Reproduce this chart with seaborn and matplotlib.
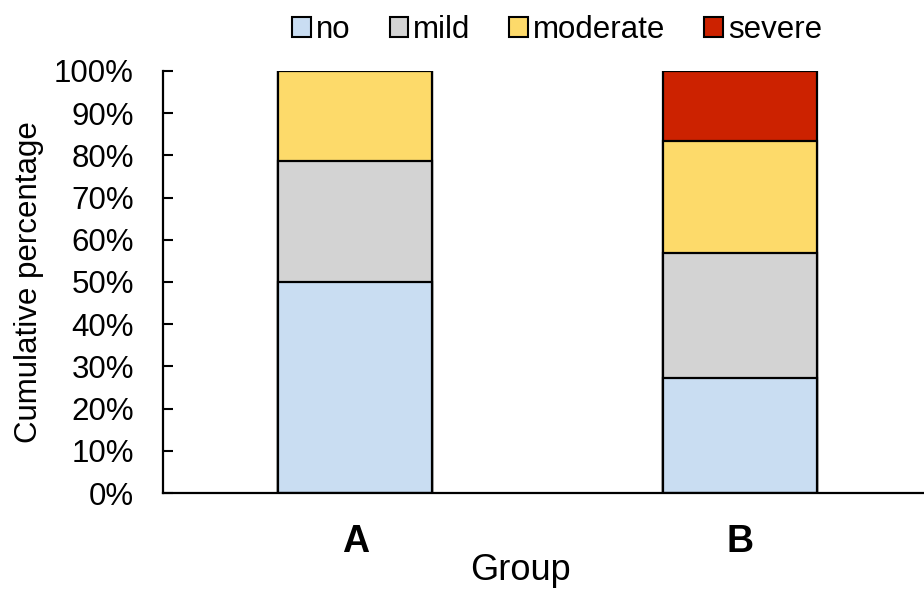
import matplotlib
matplotlib.use("Agg")
import numpy as np
import pandas as pd
import matplotlib.pyplot as plt
import seaborn as sns
from matplotlib.patches import Patch
from matplotlib.ticker import PercentFormatter

# data (percent of each group)
groups = ["A", "B"]
levels = ["no", "mild", "moderate", "severe"]
no_pct = [50.0, 27.3]
mild_pct = [28.6, 29.6]
moderate_pct = [21.4, 26.6]
severe_pct = [0.0, 16.5]
colors = ["#C9DDF2", "#D3D3D3", "#FDDA6A", "#CC2200"]

sns.set_style("white")
plt.rcParams["font.family"] = ["Liberation Sans", "DejaVu Sans"]
plt.rcParams["text.color"] = "black"
plt.rcParams["axes.labelcolor"] = "black"
plt.rcParams["xtick.color"] = "black"
plt.rcParams["ytick.color"] = "black"

df = pd.DataFrame({"group": groups, "no": no_pct, "mild": mild_pct,
                   "moderate": moderate_pct, "severe": severe_pct})
cum = df[levels].cumsum(axis=1)
cum["group"] = df["group"]

fig = plt.figure(figsize=(9.24, 5.9), dpi=100)
ax = fig.add_axes([0.1764, 0.1644, 0.8236, 0.7153])

# stacked look: draw cumulative totals from the top layer down
for lvl, col in reversed(list(zip(levels, colors))):
    sns.barplot(data=cum, x="group", y=lvl, color=col, edgecolor="black",
                linewidth=1.6, width=0.4, ax=ax, saturation=1)

ax.set_ylim(0, 100)
ax.set_xlim(-0.5, 1.477)
ax.set_yticks(np.arange(0, 101, 10))
ax.yaxis.set_major_formatter(PercentFormatter(decimals=0))
ax.tick_params(axis="y", direction="in", length=7, width=1.5, labelsize=22.5,
               left=True, pad=21)
ax.tick_params(axis="x", length=0, labelsize=27, pad=22)
for lab in ax.get_xticklabels():
    lab.set_fontweight("bold")
ax.set_ylabel("Cumulative percentage", fontsize=22.5, labelpad=7)
ax.set_xlabel("Group", fontsize=26)
# the axis title sits a bit left of the plot centre, as in the source
ax.xaxis.set_label_coords(0.47, -0.143)
sns.despine(ax=ax)
for s in ["left", "bottom"]:
    ax.spines[s].set_linewidth(1.6)
    ax.spines[s].set_color("black")

handles = [Patch(facecolor=c, edgecolor="black", linewidth=1.5, label=l)
           for l, c in zip(levels, colors)]
fig.legend(handles=handles, loc="upper center", bbox_to_anchor=(0.603, 1.022),
           ncol=4, frameon=False, fontsize=22.5, handlelength=0.6,
           handleheight=0.6, handletextpad=0.15, columnspacing=1.25)

fig.savefig("out.png", dpi=100)
